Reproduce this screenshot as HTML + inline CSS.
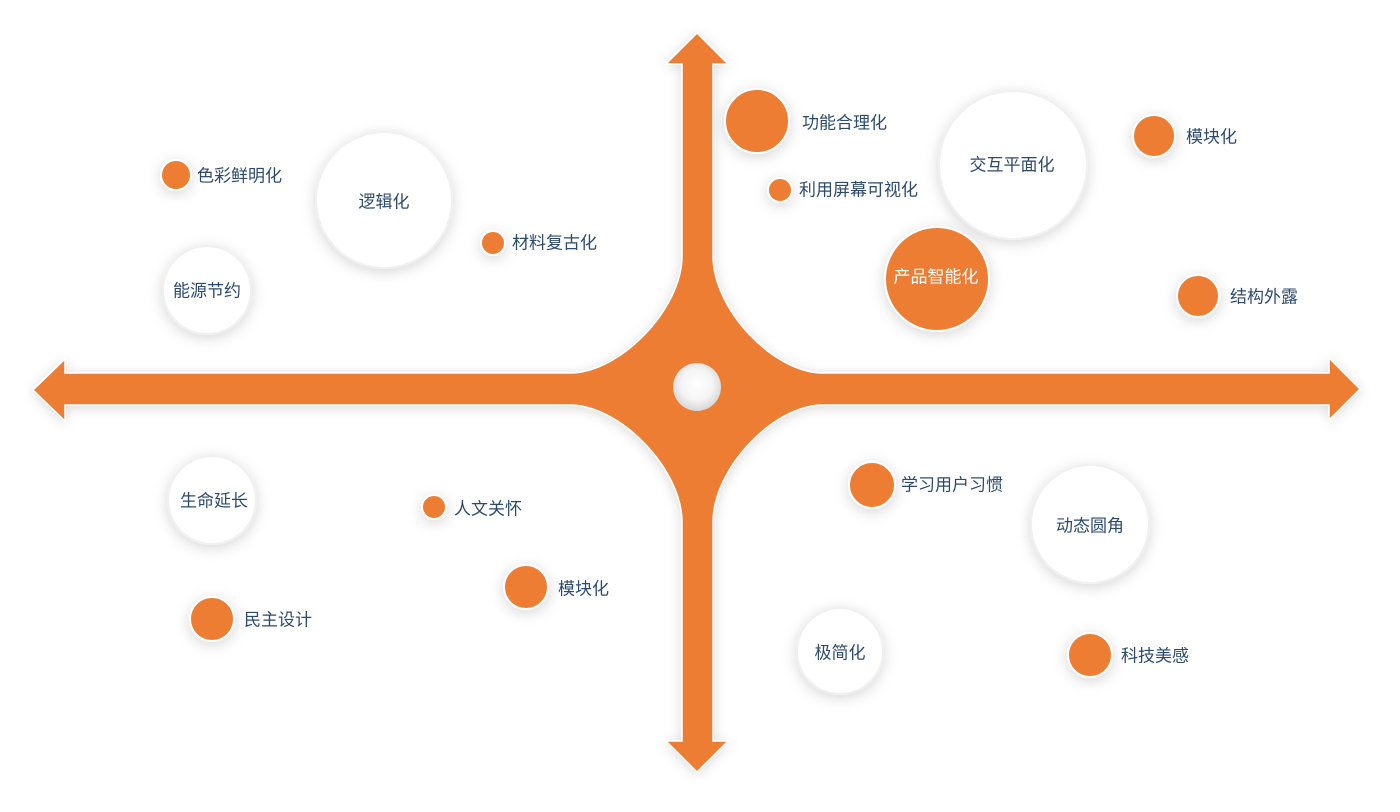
<!DOCTYPE html>
<html><head><meta charset="utf-8"><style>
html,body{margin:0;padding:0;background:#fff;width:1400px;height:812px;overflow:hidden}
svg text{font-family:"Liberation Sans","Noto Sans CJK SC",sans-serif;font-size:17px;fill:#2c4a6e;dominant-baseline:central}
</style></head><body>
<svg width="1400" height="812" viewBox="0 0 1400 812" xmlns="http://www.w3.org/2000/svg">
<defs>
<filter id="sh" x="-50%" y="-50%" width="200%" height="200%"><feDropShadow dx="0" dy="3" stdDeviation="7" flood-color="#000" flood-opacity="0.16"/></filter>
<filter id="sh2" x="-10%" y="-10%" width="120%" height="120%"><feDropShadow dx="0" dy="2" stdDeviation="6" flood-color="#000" flood-opacity="0.15"/></filter>
<radialGradient id="hole" cx="50%" cy="45%" r="55%"><stop offset="0" stop-color="#fff"/><stop offset="0.6" stop-color="#f4f4f4"/><stop offset="1" stop-color="#d6d6d6"/></radialGradient>
</defs>
<path filter="url(#sh2)" fill="#ed7d31" stroke="#fff" stroke-width="1.5" d="
M697,33 L728,64 L713,64 L713,256
C713,309 773,373 823,373 L1329,373 L1329,358 L1360,389 L1329,420 L1329,405 L823,405
C773,405 713,469 713,522 L713,741 L728,741 L697,772 L666,741 L682,741 L682,522
C682,469 620,405 570,405 L65,405 L65,421 L33,390 L65,359 L65,373 L570,373
C620,373 682,309 682,256 L682,64 L666,64 Z"/>
<circle cx="697" cy="387" r="24" fill="url(#hole)"/>
<g filter="url(#sh)" stroke="#fff" stroke-width="2">
<circle cx="384" cy="200" r="68" fill="#fff" stroke="#f0f0f0"/>
<circle cx="207" cy="290" r="44" fill="#fff" stroke="#f0f0f0"/>
<circle cx="1013" cy="165" r="74" fill="#fff" stroke="#f0f0f0"/>
<circle cx="212" cy="500" r="44" fill="#fff" stroke="#f0f0f0"/>
<circle cx="1090" cy="524" r="59" fill="#fff" stroke="#f0f0f0"/>
<circle cx="840" cy="651" r="43" fill="#fff" stroke="#f0f0f0"/>
<circle cx="176" cy="175" r="15" fill="#ed7d31"/>
<circle cx="493" cy="243" r="12" fill="#ed7d31"/>
<circle cx="757" cy="121" r="32" fill="#ed7d31"/>
<circle cx="780" cy="190" r="12" fill="#ed7d31"/>
<circle cx="1154" cy="136" r="21" fill="#ed7d31"/>
<circle cx="937" cy="279" r="52" fill="#ed7d31"/>
<circle cx="1198" cy="296" r="21" fill="#ed7d31"/>
<circle cx="872" cy="485" r="23" fill="#ed7d31"/>
<circle cx="434" cy="507" r="12" fill="#ed7d31"/>
<circle cx="526" cy="587" r="22" fill="#ed7d31"/>
<circle cx="212" cy="619" r="22" fill="#ed7d31"/>
<circle cx="1090" cy="655" r="22" fill="#ed7d31"/>
</g>
<text x="384" y="202" text-anchor="middle">逻辑化</text>
<text x="207" y="291" text-anchor="middle">能源节约</text>
<text x="1012" y="165" text-anchor="middle">交互平面化</text>
<text x="214" y="501" text-anchor="middle">生命延长</text>
<text x="1090" y="526" text-anchor="middle">动态圆角</text>
<text x="840" y="653" text-anchor="middle">极简化</text>
<text x="936" y="277" text-anchor="middle" style="fill:#fff">产品智能化</text>
<text x="197" y="176">色彩鲜明化</text>
<text x="512" y="243">材料复古化</text>
<text x="802" y="123">功能合理化</text>
<text x="799" y="190">利用屏幕可视化</text>
<text x="1186" y="137">模块化</text>
<text x="1230" y="297">结构外露</text>
<text x="901" y="485">学习用户习惯</text>
<text x="454" y="509">人文关怀</text>
<text x="558" y="589">模块化</text>
<text x="244" y="620">民主设计</text>
<text x="1121" y="656">科技美感</text>
</svg>
</body></html>
